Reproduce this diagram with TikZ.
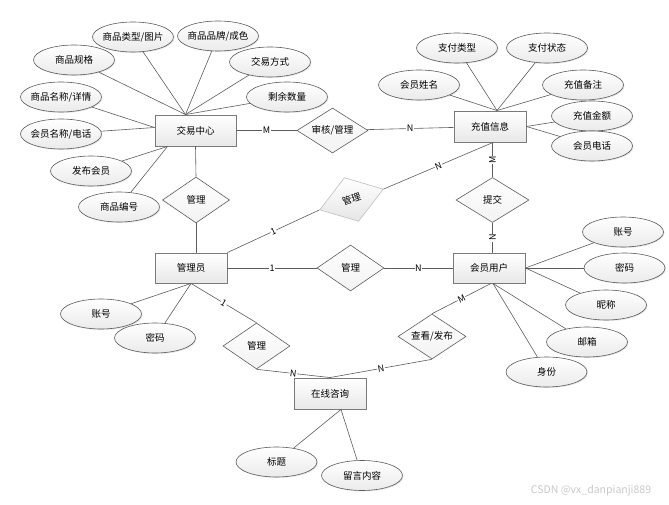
\documentclass[tikz,border=0pt]{standalone}
\usepackage{fontspec}
\setmainfont{Noto Sans CJK SC}
\usetikzlibrary{shapes.geometric,shadows}

\definecolor{linegray}{HTML}{5C5C5C}
\definecolor{boxgray}{HTML}{7A7A7A}
\definecolor{paleline}{HTML}{BDBDBD}
\definecolor{markgray}{HTML}{C8C8C8}

\tikzset{
  entity/.style={rectangle, draw=boxgray, line width=0.9pt, minimum width=72pt, minimum height=30pt,
    top color=white, bottom color=black!9, drop shadow={shadow xshift=1.2pt, shadow yshift=-1.2pt, opacity=0.25}},
  attr/.style={ellipse, draw=linegray, line width=0.6pt, minimum width=81pt, minimum height=30pt,
    inner xsep=-3pt, inner ysep=0pt, top color=white, bottom color=black!8,
    drop shadow={shadow xshift=1pt, shadow yshift=-1pt, opacity=0.2}},
  rel/.style={diamond, draw=linegray, line width=0.6pt, minimum width=67pt, minimum height=46pt,
    aspect=1.5, inner sep=0pt, top color=white, bottom color=black!5},
  link/.style={draw=linegray, line width=0.6pt},
  card/.style={fill=white, inner sep=0.6pt, font=\fontsize{9}{10}\selectfont},
}

\begin{document}
\begin{tikzpicture}[x=1pt, y=-1pt, font=\fontsize{9.5}{11}\selectfont]
  \useasboundingbox (0,0) rectangle (669,505);

  % Entities
  \node[entity, minimum width=81pt, minimum height=31pt] (jy) at (195.5,130.5) {交易中心};
  \node[entity, minimum height=31pt] (cz) at (490,126.5) {充值信息};
  \node[entity] (gly) at (191,268) {管理员};
  \node[entity] (hy) at (489,268) {会员用户};
  \node[entity, minimum height=31pt] (zx) at (330,393.5) {在线咨询};

  % Relationships
  \node[rel, minimum width=71pt, minimum height=45pt] (sh) at (332.5,130.5) {审核/管理};
  \node[rel] (gl1) at (196,200) {管理};
  \node[rel, minimum width=73pt, minimum height=45pt] (tj) at (492.5,200) {提交};
  \node[rel] (gl2) at (350.5,268) {管理};
  \node[rel, rotate=18, draw=paleline, bottom color=black!10] (gl3) at (351.5,199.5) {管理};
  \node[rel] (gl4) at (256.5,346) {管理};
  \node[rel, minimum width=68pt, minimum height=45pt] (ck) at (432,336.5) {查看/发布};

  % Attributes of 交易中心
  \node[attr] (splx) at (133,37) {商品类型/图片};
  \node[attr] (sppp) at (218,36) {商品品牌/成色};
  \node[attr] (spgg) at (74,60) {商品规格};
  \node[attr] (jyfs) at (270,62) {交易方式};
  \node[attr] (spmc) at (61,97) {商品名称/详情};
  \node[attr] (sysl) at (287,97) {剩余数量};
  \node[attr] (hymc) at (61,134) {会员名称/电话};
  \node[attr] (fbhy) at (91,171) {发布会员};
  \node[attr] (spbh) at (119,207) {商品编号};

  \draw[link] (splx) -- ([xshift=-10pt]jy.north);
  \draw[link] (sppp) -- ([xshift=-10pt]jy.north);
  \draw[link] (spgg) -- ([xshift=-10pt]jy.north);
  \draw[link] (jyfs) -- ([xshift=-10pt]jy.north);
  \draw[link] (sysl) -- ([xshift=-10pt]jy.north);
  \draw[link] (spmc) -- ([yshift=3pt]jy.west);
  \draw[link] (hymc) -- ([yshift=3pt]jy.west);
  \draw[link] (fbhy) -- ([xshift=-28pt]jy.south);
  \draw[link] (spbh) -- ([xshift=-28pt]jy.south);

  % Attributes of 充值信息
  \node[attr] (zflx) at (457,48) {支付类型};
  \node[attr] (zfzt) at (547,48) {支付状态};
  \node[attr] (hyxm) at (419,85) {会员姓名};
  \node[attr] (czbz) at (583,85) {充值备注};
  \node[attr] (czje) at (592,116) {充值金额};
  \node[attr] (hydh) at (592,146) {会员电话};

  \draw[link] (zflx) -- ([xshift=7pt]cz.north);
  \draw[link] (zfzt) -- ([xshift=7pt]cz.north);
  \draw[link] (hyxm) -- ([xshift=7pt]cz.north);
  \draw[link] (czbz) -- ([xshift=7pt]cz.north);
  \draw[link] (czje) -- (cz.east);
  \draw[link] (hydh) -- (cz.east);

  % Attributes of 会员用户
  \node[attr] (hyzh) at (623,232) {账号};
  \node[attr] (hymm) at (624.5,268) {密码};
  \node[attr] (hync) at (606,305) {昵称};
  \node[attr] (hyyx) at (587,342) {邮箱};
  \node[attr] (hysf) at (546.5,372) {身份};

  \draw[link] (hyzh) -- (hy.east);
  \draw[link] (hymm) -- (hy.east);
  \draw[link] (hync) -- (hy.east);
  \draw[link] (hyyx) -- ([xshift=4pt]hy.south);
  \draw[link] (hysf) -- ([xshift=4pt]hy.south);

  % Attributes of 管理员
  \node[attr] (glzh) at (101,314) {账号};
  \node[attr] (glmm) at (155,338) {密码};

  \draw[link] (glzh) -- (gly.south);
  \draw[link] (glmm) -- (gly.south);

  % Attributes of 在线咨询
  \node[attr] (zxbt) at (276.5,462) {标题};
  \node[attr] (zxnr) at (362,475.5) {留言内容};

  \draw[link] (zxbt) -- ([xshift=11pt]zx.south);
  \draw[link] (zxnr) -- ([xshift=11pt]zx.south);

  % Relationship lines
  \draw[link] (jy) -- node[card] {M} (sh);
  \draw[link] (sh) -- node[card] {N} (cz);
  \draw[link] (jy.south) -- (gl1.north);
  \draw[link] (gl1.south) -- (gl1.south |- gly.north);
  \draw[link] (gly) -- node[card] {1} (gl2);
  \draw[link] (gl2) -- node[card] {N} (hy);
  \draw[link] (tj.north |- cz.south) -- node[card, rotate=90] {M} (tj.north);
  \draw[link] (tj.south) -- node[card, rotate=90] {N} (tj.south |- hy.north);
  \draw[link] (gly.north east) -- node[card, sloped] {1} (gl3.west);
  \draw[link] (gl3.east) -- node[card, sloped] {N} ([xshift=3pt]cz.south);
  \draw[link] (gly.south) -- node[card, sloped] {1} (gl4.north);
  \draw[link] (gl4.south) -- node[card, sloped] {N} (zx.north);
  \draw[link] (ck.north) -- node[card, sloped] {M} ([xshift=2pt]hy.south);
  \draw[link] (ck.south) -- node[card, sloped] {N} (zx.north);

  % Watermark
  \node[text=markgray, font=\fontsize{10.5}{12}\selectfont] (wm) at (591,491) {CSDN @vx\_danpianji889};

\end{tikzpicture}
\end{document}
